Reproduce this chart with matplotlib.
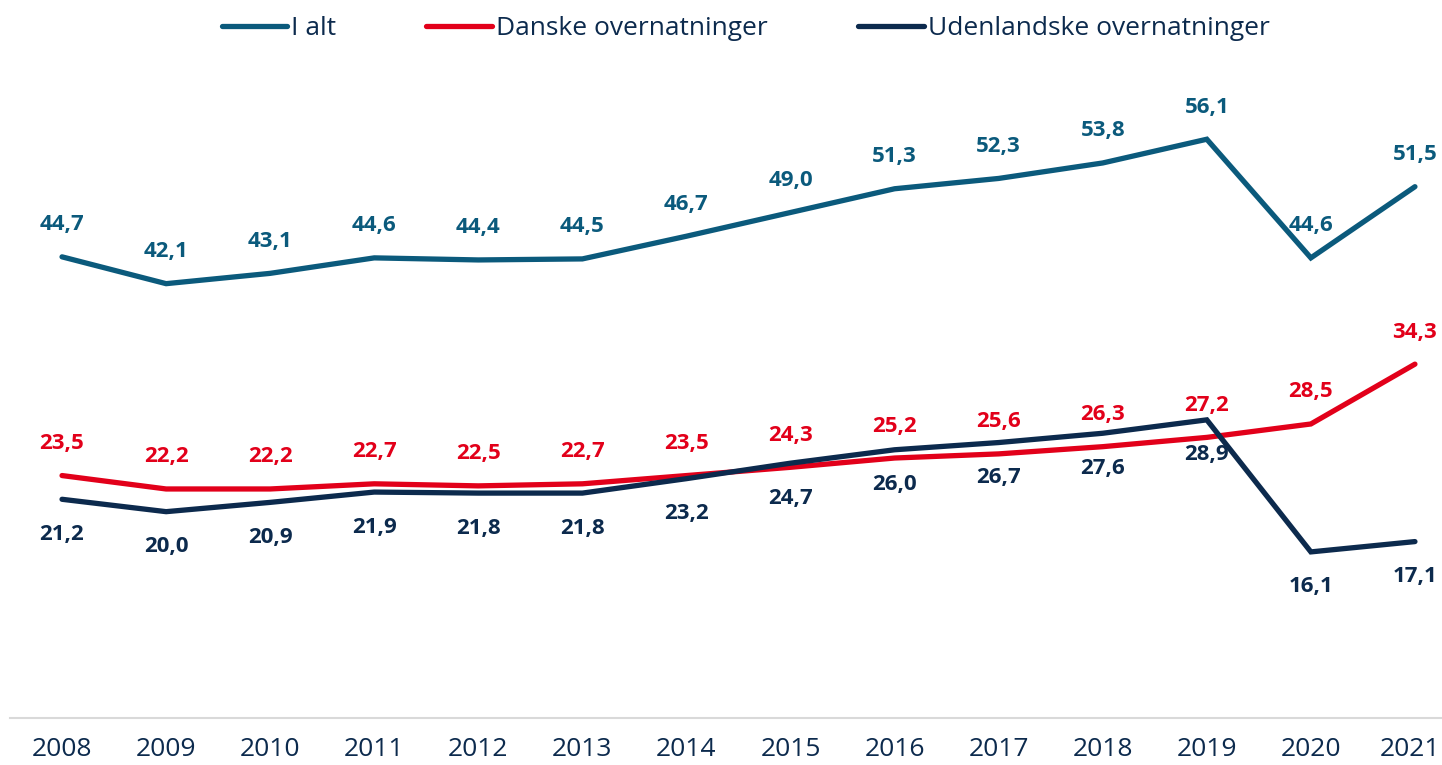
import matplotlib.pyplot as plt
from matplotlib.transforms import ScaledTranslation

plt.rcParams['font.family'] = ['Open Sans', 'DejaVu Sans']

# Data
years = ['2008', '2009', '2010', '2011', '2012', '2013', '2014',
         '2015', '2016', '2017', '2018', '2019', '2020', '2021']
i_alt = [44.7, 42.1, 43.1, 44.6, 44.4, 44.5, 46.7, 49.0, 51.3, 52.3, 53.8, 56.1, 44.6, 51.5]
danske = [23.5, 22.2, 22.2, 22.7, 22.5, 22.7, 23.5, 24.3, 25.2, 25.6, 26.3, 27.2, 28.5, 34.3]
udenl = [21.2, 20.0, 20.9, 21.9, 21.8, 21.8, 23.2, 24.7, 26.0, 26.7, 27.6, 28.9, 16.1, 17.1]

c_ialt = '#0B5A7C'
c_dk = '#E2001A'
c_ud = '#0C2A4D'
c_txt = '#0C2A4D'

fig = plt.figure(figsize=(14.42, 7.65), dpi=100)
ax = fig.add_axes([10 / 1442, 47 / 765, 1432 / 1442, 619 / 765])

x = list(range(len(years)))
series = [
    (i_alt, c_ialt, 'I alt', 32),
    (danske, c_dk, 'Danske overnatninger', 32),
    (udenl, c_ud, 'Udenlandske overnatninger', -35),
]
for vals, col, lab, off in series:
    ax.plot(x, vals, color=col, lw=3.8, solid_capstyle='round',
            solid_joinstyle='miter', label=lab)
    for xi, v in zip(x, vals):
        ax.annotate(f'{v:.1f}'.replace('.', ','), (xi, v), xytext=(0, off),
                    textcoords='offset pixels', ha='center', va='center',
                    fontsize=16, fontweight='bold', color=col)

ax.set_xlim(-0.5, 13.26)
ax.set_ylim(0, 60)
ax.set_xticks(x)
ax.set_xticklabels(years, fontsize=19, color=c_txt)
ax.tick_params(axis='x', length=0, pad=14)
# nudge last year label so it stays inside the figure
last = ax.get_xticklabels()[-1]
last.set_transform(last.get_transform() + ScaledTranslation(-5 / 100, 0, fig.dpi_scale_trans))
ax.set_yticks([])
for s in ['top', 'right', 'left']:
    ax.spines[s].set_visible(False)
ax.spines['bottom'].set_color('#D9D9D9')
ax.spines['bottom'].set_linewidth(1.5)

leg = fig.legend(loc='upper center', bbox_to_anchor=(0.517, 1.01), ncol=3,
                 frameon=False, fontsize=19, handlelength=2.5,
                 handletextpad=0.15, columnspacing=3.4)
for t in leg.get_texts():
    t.set_color(c_txt)

fig.savefig('out.png', dpi=100)
